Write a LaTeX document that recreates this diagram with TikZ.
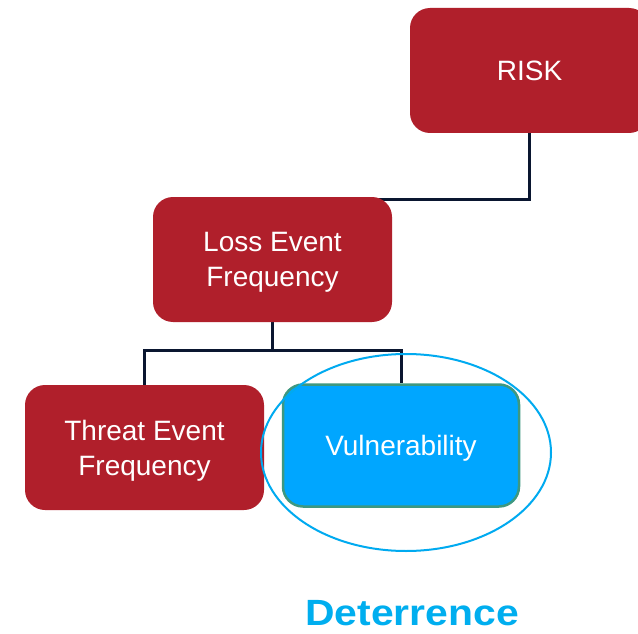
\documentclass[tikz,border=0pt]{standalone}
\usepackage{fontspec}
\setmainfont{Liberation Sans}
\usetikzlibrary{backgrounds}
\definecolor{riskred}{RGB}{176,31,43}
\definecolor{linknavy}{RGB}{10,22,48}
\definecolor{vulnfill}{RGB}{0,166,255}
\definecolor{vulnedge}{RGB}{62,152,128}
\definecolor{ringblue}{RGB}{0,170,240}
\definecolor{labelblue}{RGB}{0,174,239}
\tikzset{
  x=1pt, y=-1pt,
  factorbox/.style={rectangle, rounded corners=20pt, fill=riskred, text=white,
    minimum width=239pt, minimum height=125pt, align=center,
    font=\fontsize{28}{35}\selectfont, inner sep=0pt, text depth=0pt},
  focusbox/.style={factorbox, fill=vulnfill, draw=vulnedge, line width=2.5pt,
    minimum width=236pt, minimum height=122pt},
  link/.style={draw=linknavy, line width=3pt},
  ring/.style={draw=ringblue, line width=2pt},
}
\begin{document}
\begin{tikzpicture}
\clip (0,0) rectangle (638,634);

% factor tree
\node[factorbox] (risk) at (529.5,70.5) {RISK};
\node[factorbox] (loss) at (272.5,259.5) {Loss Event\\Frequency};
\node[factorbox] (threat) at (144.5,447.5) {Threat Event\\Frequency};
\node[focusbox] (vuln) at (401,445.5) {Vulnerability};

% connectors behind the boxes
\coordinate (bus) at (272.5,350);
\begin{scope}[on background layer]
  \fill[white] (0,0) rectangle (638,634);
  \draw[link] (risk.south) |- ([xshift=-20pt,yshift=-3pt]loss.north east);
  \draw[link] (loss.south) -- (bus);
  \draw[link] (threat.north) |- (bus) -| (vuln.north);
\end{scope}

% highlight around the vulnerability factor
\draw[ring] (406,452.5) ellipse [x radius=145, y radius=98.5];
\node[text=labelblue, font=\fontsize{36.5}{40}\selectfont\bfseries, inner sep=0pt]
  (deter) at (412,613) {\scalebox{1.12}[1]{Deterrence}};
\end{tikzpicture}
\end{document}
